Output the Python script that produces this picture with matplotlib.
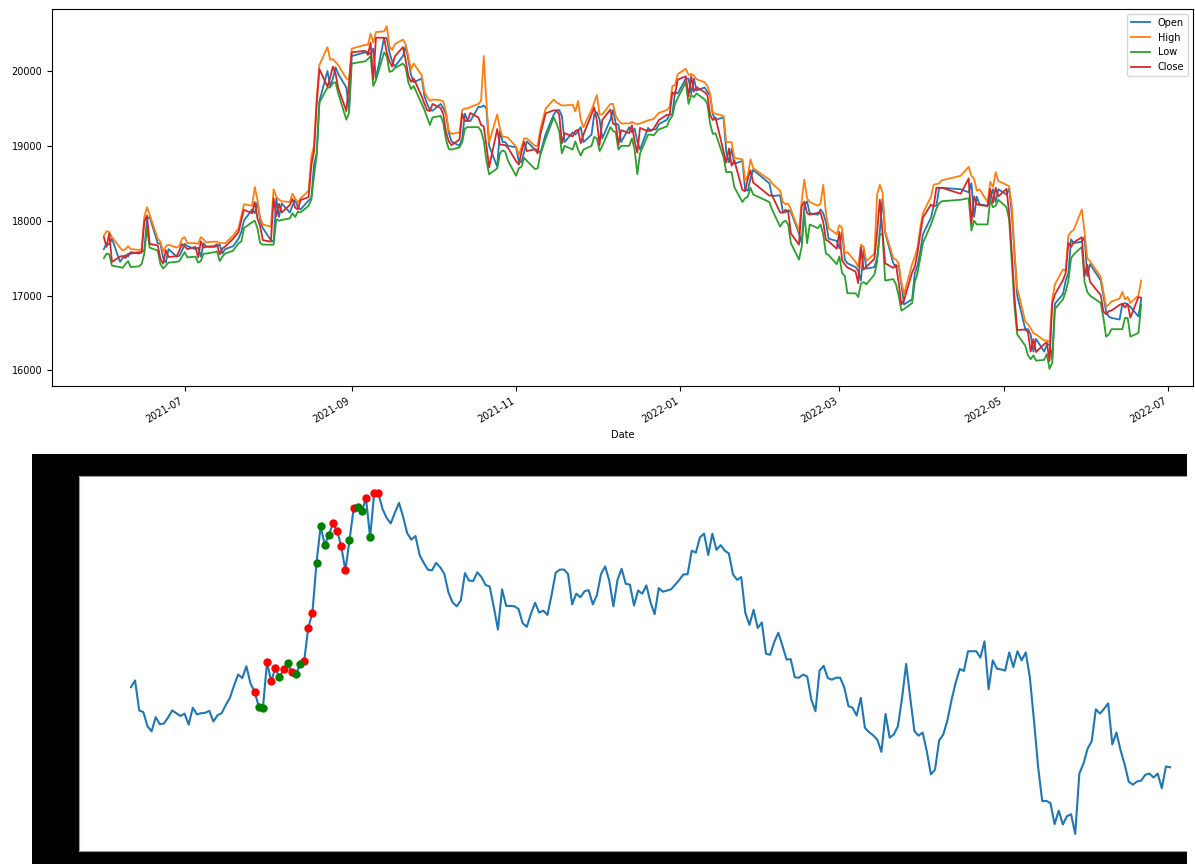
import numpy as np
import pandas as pd
import matplotlib
matplotlib.use("Agg")
import matplotlib.pyplot as plt
import matplotlib.dates as mdates
from matplotlib.patches import Rectangle

# ---------------- data ----------------
# sessions before the window shown in the lower chart (top chart only)
open_early = [17620, 17700, 17680, 17760, 17450, 17500, 17540, 17520, 17580, 17560, 17590]
high_early = [17800, 17860, 17850, 17780, 17640, 17600, 17620, 17660, 17620, 17610, 17620]
low_early = [17500, 17560, 17550, 17400, 17380, 17370, 17420, 17460, 17380, 17390, 17420]
close_early = [17780, 17650, 17830, 17450, 17520, 17530, 17500, 17560, 17560, 17580, 17570]

# sessions shown in both charts
open_ = [17600, 18020, 18050, 17700, 17690, 17500, 17440, 17620, 17520, 17530,
         17600, 17690, 17660, 17620, 17640, 17520, 17700, 17650, 17650, 17660,
         17680, 17560, 17620, 17660, 17760, 17850, 18000, 18150, 18100, 18250,
         18000, 17900, 17740, 17720, 18300, 18050, 18230, 18110, 18200, 18280,
         18180, 18150, 18270, 18300, 18750, 18900, 19600, 20000, 19800, 19900,
         20050, 19960, 19780, 19480, 20200, 20250, 20260, 20220, 20300, 19900,
         20440, 20440, 20250, 20130, 20060, 20200, 20330, 20150, 19950, 19850,
         19900, 19660, 19560, 19480, 19470, 19560, 19500, 19420, 19180, 19060,
         19000, 19100, 19430, 19340, 19330, 19520, 19520, 19540, 19500, 19000,
         18720, 19200, 19050, 19050, 19000, 18980, 18800, 18780, 18920, 19060,
         18950, 18950, 18900, 19160, 19420, 19470, 19480, 19400, 19050, 19180,
         19150, 19200, 19250, 19050, 19150, 19420, 19450, 19350, 19100, 19350,
         19480, 19300, 19280, 19050, 19250, 19180, 19230, 19060, 18950, 19240,
         19200, 19220, 19220, 19290, 19350, 19420, 19420, 19720, 19700, 19900,
         19900, 19700, 19900, 19740, 19780, 19720, 19680, 19420, 19350, 19380,
         18920, 18780, 18960, 18760, 18800, 18420, 18400, 18560, 18680, 18500,
         18330, 18340, 18120, 18110, 18140, 18120, 17830, 17700, 18200, 18260,
         18100, 18080, 18150, 18100, 17980, 17760, 17730, 17630, 17850, 17480,
         17430, 17380, 17330, 17200, 17620, 17360, 17380, 17500, 17850, 18300,
         17840, 17430, 17380, 17400, 17150, 16880, 16950, 17300, 17400, 17580,
         17820, 18040, 18200, 18200, 18430, 18440, 18420, 18380, 18500, 18050,
         18320, 18220, 18200, 18300, 18420, 18250, 18420, 18350, 18430, 18100,
         17550, 17000, 16550, 16550, 16480, 16250, 16420, 16250, 16340, 16350,
         16150, 16890, 17020, 17200, 17300, 17750, 17700, 17720, 17780, 17260,
         17420, 17200, 17000, 16780, 16720, 16700, 16680, 16880, 16900, 16880,
         16850, 16720, 16950]
high = [18050, 18180, 18080, 17760, 17720, 17580, 17660, 17680, 17640, 17660,
        17760, 17780, 17700, 17700, 17690, 17780, 17750, 17710, 17720, 17720,
        17700, 17700, 17700, 17800, 17900, 18060, 18220, 18200, 18450, 18280,
        18040, 17950, 17920, 18420, 18320, 18280, 18260, 18250, 18360, 18300,
        18240, 18300, 18400, 18860, 19000, 19650, 20080, 20320, 20150, 20160,
        20120, 20080, 19900, 19880, 20300, 20350, 20350, 20500, 20380, 20520,
        20530, 20600, 20330, 20280, 20360, 20420, 20360, 20200, 20020, 20100,
        19940, 19720, 19650, 19600, 19620, 19610, 19590, 19450, 19200, 19160,
        19180, 19480, 19500, 19500, 19520, 19560, 19600, 20200, 19580, 19050,
        19420, 19230, 19120, 19120, 19110, 18990, 18880, 18980, 19100, 19100,
        19000, 19000, 19220, 19500, 19620, 19580, 19560, 19540, 19540, 19550,
        19460, 19600, 19350, 19250, 19480, 19580, 19680, 19420, 19420, 19560,
        19560, 19400, 19340, 19300, 19300, 19320, 19300, 19290, 19300, 19340,
        19350, 19360, 19400, 19440, 19480, 19520, 19800, 19810, 19960, 20030,
        19950, 19960, 19940, 19890, 19850, 19800, 19700, 19440, 19430, 19400,
        19050, 19050, 19050, 18840, 18820, 18540, 18600, 18820, 18700, 18550,
        18500, 18400, 18250, 18220, 18230, 18150, 17860, 18260, 18550, 18300,
        18250, 18200, 18230, 18480, 18100, 17900, 17820, 17940, 17900, 17560,
        17580, 17450, 17380, 17680, 17650, 17460, 17560, 18350, 18480, 18380,
        17860, 17500, 17480, 17430, 17180, 17020, 17420, 17520, 17640, 17900,
        18100, 18320, 18480, 18490, 18500, 18540, 18600, 18720, 18600, 18560,
        18400, 18420, 18250, 18520, 18450, 18650, 18530, 18480, 18460, 18200,
        17600, 17100, 16650, 16620, 16560, 16500, 16480, 16400, 16400, 16380,
        16950, 17150, 17350, 17330, 17800, 17850, 17880, 18150, 17850, 17500,
        17460, 17250, 17050, 16850, 16880, 16920, 16960, 17050, 16950, 16980,
        16900, 17000, 17200]
low = [17560, 17910, 17640, 17600, 17420, 17360, 17400, 17440, 17450, 17460,
       17520, 17580, 17510, 17520, 17440, 17460, 17560, 17560, 17580, 17590,
       17460, 17520, 17560, 17600, 17700, 17720, 17900, 17980, 18000, 17900,
       17700, 17680, 17680, 17680, 18020, 18000, 18010, 18030, 18100, 18050,
       18120, 18110, 18200, 18280, 18600, 18880, 19580, 19780, 19780, 19840,
       19850, 19700, 19350, 19440, 20100, 20130, 20160, 20200, 19800, 19880,
       20250, 20200, 19990, 20000, 20040, 20100, 20050, 19850, 19760, 19800,
       19560, 19480, 19380, 19280, 19380, 19400, 19300, 19080, 18960, 18950,
       18980, 19050, 19230, 19250, 19250, 19250, 19200, 19070, 18800, 18620,
       18700, 18900, 18940, 18920, 18800, 18600, 18700, 18720, 18840, 18800,
       18690, 18700, 18880, 19100, 19380, 19300, 19200, 18900, 19000, 18950,
       19060, 18950, 18870, 18950, 19000, 19120, 19100, 18930, 19000, 19250,
       19200, 19180, 18950, 19000, 19000, 19100, 18950, 18620, 18900, 19150,
       19150, 19140, 19180, 19220, 19260, 19350, 19400, 19560, 19640, 19850,
       19560, 19680, 19650, 19700, 19620, 19560, 19300, 19160, 19170, 18850,
       18650, 18650, 18650, 18450, 18250, 18300, 18320, 18440, 18350, 18250,
       18150, 17920, 17980, 18000, 17950, 17700, 17480, 17650, 18100, 17700,
       17950, 17900, 17950, 17820, 17560, 17540, 17420, 17520, 17300, 17260,
       17030, 17030, 16980, 17160, 17180, 17150, 17280, 17450, 17820, 17820,
       17200, 17220, 17150, 17000, 16800, 16820, 16900, 17180, 17300, 17500,
       17700, 17950, 18050, 18160, 18230, 18260, 18280, 18300, 17870, 18000,
       17950, 17950, 17950, 18280, 18180, 18200, 18280, 18180, 18020, 17450,
       16850, 16480, 16330, 16200, 16150, 16200, 16130, 16140, 16220, 16020,
       16100, 16820, 16950, 17050, 17200, 17500, 17550, 17650, 17180, 17050,
       17000, 16900, 16700, 16450, 16480, 16550, 16550, 16550, 16700, 16700,
       16450, 16500, 16880]
close = [17985, 18070, 17690, 17670, 17490, 17425, 17605, 17515, 17525, 17600,
         17690, 17655, 17620, 17650, 17510, 17725, 17640, 17655, 17660, 17685,
         17550, 17630, 17655, 17760, 17850, 18005, 18145, 18100, 18250, 18030,
         17925, 17740, 17720, 18300, 18060, 18225, 18110, 18210, 18290, 18175,
         18150, 18275, 18315, 18740, 18925, 19560, 20025, 19790, 19915, 20060,
         19965, 19770, 19465, 19845, 20250, 20270, 20215, 20380, 19885, 20445,
         20445, 20245, 20130, 20060, 20195, 20320, 20145, 19935, 19855, 19900,
         19660, 19560, 19475, 19465, 19560, 19505, 19420, 19185, 19060, 19010,
         19085, 19430, 19335, 19330, 19440, 19380, 19280, 19260, 19000, 18715,
         19225, 19015, 19015, 19010, 18975, 18795, 18750, 18915, 19055, 18930,
         18955, 18900, 19150, 19435, 19475, 19475, 19420, 19035, 19170, 19125,
         19200, 19215, 19035, 19150, 19420, 19515, 19335, 19010, 19345, 19485,
         19295, 19285, 19020, 19210, 19170, 19275, 19060, 18910, 19240, 19195,
         19210, 19225, 19285, 19345, 19415, 19415, 19715, 19690, 19885, 19930,
         19660, 19930, 19725, 19785, 19715, 19680, 19415, 19345, 19380, 18925,
         18775, 18965, 18735, 18805, 18410, 18395, 18555, 18675, 18510, 18335,
         18340, 18110, 18105, 18145, 18120, 17830, 17680, 18195, 18255, 18100,
         18080, 18105, 18105, 17980, 17745, 17725, 17625, 17850, 17470, 17415,
         17375, 17320, 17165, 17645, 17345, 17385, 17490, 17845, 18280, 17845,
         17430, 17370, 17410, 17175, 16880, 16940, 17310, 17385, 17565, 17820,
         18040, 18215, 18190, 18440, 18440, 18440, 18360, 18565, 17960, 18325,
         18220, 18210, 18195, 18425, 18240, 18440, 18325, 18425, 18110, 17565,
         16975, 16540, 16545, 16515, 16250, 16420, 16245, 16350, 16375, 16125,
         16890, 17015, 17205, 17300, 17705, 17650, 17710, 17780, 17260, 17410,
         17185, 17005, 16785, 16750, 16790, 16800, 16875, 16890, 16840, 16890,
         16705, 16980, 16970]

start_date = "2021-06-01"
end_date = "2022-06-21"
holidays = ["2021-07-20", "2021-09-02", "2021-09-03", "2021-11-11", "2022-01-31",
            "2022-02-01", "2022-02-02", "2022-04-11", "2022-04-12", "2022-04-13",
            "2022-04-14", "2022-06-03"]

# indices (0-based, within `close`) of signal markers on the lower chart
red_idx = [30, 33, 34, 35, 37, 39, 42, 43, 44, 49, 50, 51, 52, 54, 57, 59, 60]
green_idx = [31, 32, 36, 38, 40, 41, 45, 46, 47, 48, 53, 55, 56, 58]

# ---------------- build ----------------
cols = {"Open": open_early + open_, "High": high_early + high,
        "Low": low_early + low, "Close": close_early + close}
n_all = len(cols["Close"])
days = pd.bdate_range(start_date, end_date)
days = days[~days.isin(pd.to_datetime(holidays))][-n_all:]
df = pd.DataFrame(cols, index=days)
df.index.name = "Date"

W, H = 1195, 864
fig = plt.figure(figsize=(W / 100, H / 100), dpi=100)
fig.patch.set_facecolor("white")

def frac(x0, y0, x1, y1):
    return [x0 / W, 1 - y1 / H, (x1 - x0) / W, (y1 - y0) / H]

# ---- top chart ----
ax1 = fig.add_axes(frac(52, 9, 1193, 386))
palette = ["#1f77b4", "#ff7f0e", "#2ca02c", "#d62728"]
for name, c in zip(["Open", "High", "Low", "Close"], palette):
    ax1.plot(df.index, df[name], color=c, lw=1.3, label=name)
ax1.xaxis.set_major_locator(mdates.MonthLocator(bymonth=[1, 3, 5, 7, 9, 11]))
ax1.xaxis.set_major_formatter(mdates.DateFormatter("%Y-%m"))
for lab in ax1.get_xticklabels():
    lab.set_rotation(30)
    lab.set_ha("right")
ax1.tick_params(labelsize=7)
ax1.set_xlabel("Date", fontsize=7)
ax1.legend(loc="upper right", fontsize=7)

# ---- bottom chart on black figure area ----
fig.add_artist(Rectangle((32 / W, 0), (1187 - 32) / W, (H - 454) / H,
                         transform=fig.transFigure, facecolor="black",
                         edgecolor="none", zorder=0))
ax2 = fig.add_axes(frac(79, 476, 1222, 851))
ax2.set_facecolor("white")
ax2.set_zorder(1)
ax2.plot(range(len(close)), close, color="#1f77b4", lw=1.5)
ax2.plot(red_idx, [close[i] for i in red_idx], "o", color="red", ms=5)
ax2.plot(green_idx, [close[i] for i in green_idx], "o", color="green", ms=5)
ax2.set_xticks([])
ax2.set_yticks([])
for s in ax2.spines.values():
    s.set_color("#9a9a9a")
fig.add_artist(Rectangle((1187 / W, 0), (W - 1187) / W, (H - 440) / H,
                         transform=fig.transFigure, facecolor="white",
                         edgecolor="none", zorder=5))

fig.savefig("out.png", dpi=100)
